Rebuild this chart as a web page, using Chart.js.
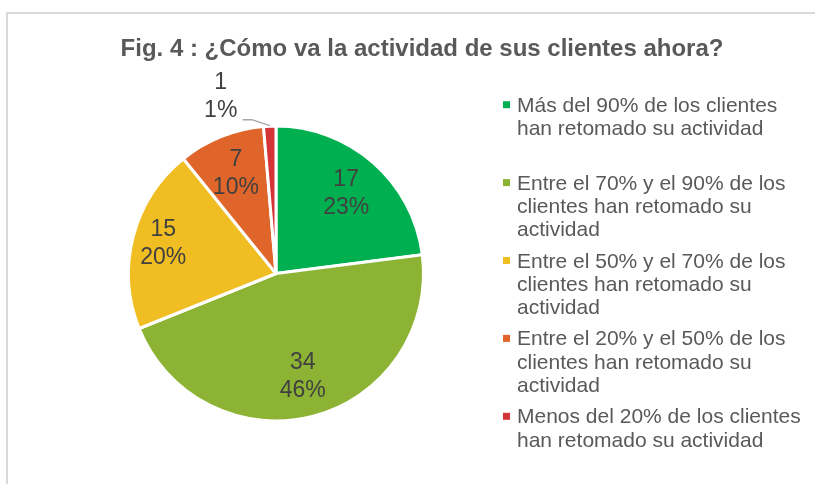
<!DOCTYPE html>
<html>
<head>
<meta charset="utf-8">
<script src="https://cdn.jsdelivr.net/npm/chart.js@4.4.0/dist/chart.umd.min.js"></script>
<style>
  body { margin: 0; background: #fff; }
</style>
</head>
<body>
<canvas id="chart" width="815" height="484"></canvas>
<script>
// data
var chartTitle = 'Fig. 4 : ¿Cómo va la actividad de sus clientes ahora?';
var categories = [
  ['Más del 90% de los clientes', 'han retomado su actividad'],
  ['Entre el 70% y el 90% de los', 'clientes han retomado su', 'actividad'],
  ['Entre el 50% y el 70% de los', 'clientes han retomado su', 'actividad'],
  ['Entre el 20% y el 50% de los', 'clientes han retomado su', 'actividad'],
  ['Menos del 20% de los clientes', 'han retomado su actividad']
];
var values = [17, 34, 15, 7, 1];
var colors = ['#00b050', '#8db334', '#f0be22', '#e0652b', '#d43435'];

var FONT = '"Liberation Sans", Arial, sans-serif';

// percentages rounded so they add up to 100, like Excel does
function percents(vals) {
  var total = vals.reduce(function (a, b) { return a + b; }, 0);
  var raw = vals.map(function (v) { return v * 100 / total; });
  var out = raw.map(Math.floor);
  var left = 100 - out.reduce(function (a, b) { return a + b; }, 0);
  var order = raw.map(function (r, i) { return i; })
    .sort(function (a, b) { return (raw[b] - out[b]) - (raw[a] - out[a]); });
  for (var k = 0; k < left; k++) out[order[k]]++;
  return out;
}
var pcts = percents(values);

var excelPie = {
  id: 'excelPie',
  beforeDraw: function (chart) {
    var c = chart.ctx;
    c.save();
    c.fillStyle = '#fff';
    c.fillRect(0, 0, chart.width, chart.height);
    c.strokeStyle = '#d9d9d9';
    c.lineWidth = 2;
    c.strokeRect(7, 13, 900, 600);
    c.restore();
  },
  afterDatasetsDraw: function (chart, args, opts) {
    var c = chart.ctx;
    var arcs = chart.getDatasetMeta(0).data;
    c.save();

    // slice labels
    c.fillStyle = '#404040';
    c.font = '23px ' + FONT;
    c.textAlign = 'center';
    c.textBaseline = 'middle';
    arcs.forEach(function (arc, i) {
      var p = arc.getProps(['x', 'y', 'startAngle', 'endAngle', 'outerRadius'], true);
      var mid = (p.startAngle + p.endAngle) / 2;
      var lines = [String(values[i]), pcts[i] + '%'];
      var cx, cy;
      if (pcts[i] < 3) {
        var ex = p.x + Math.cos(mid) * (p.outerRadius + 0.5);
        var ey = p.y + Math.sin(mid) * (p.outerRadius + 0.5);
        c.strokeStyle = '#a6a6a6';
        c.lineWidth = 1.5;
        c.beginPath();
        c.moveTo(ex, ey);
        c.lineTo(ex - 18, ey - 6);
        c.lineTo(ex - 27, ey - 6);
        c.stroke();
        cx = ex - 49;
        cy = ey - 29;
      } else {
        var f = opts.labelRadius[i];
        cx = p.x + Math.cos(mid) * p.outerRadius * f;
        cy = p.y + Math.sin(mid) * p.outerRadius * f;
      }
      c.fillText(lines[0], cx, cy - 14);
      c.fillText(lines[1], cx, cy + 14);
    });

    // title
    c.fillStyle = '#595959';
    c.font = 'bold 24px ' + FONT;
    c.textBaseline = 'alphabetic';
    c.fillText(chartTitle, 422, 56);

    // legend, one equal slot per entry
    c.font = '21px ' + FONT;
    c.textAlign = 'left';
    categories.forEach(function (lines, i) {
      var base = 111.7 + i * 77.9;
      c.fillStyle = colors[i];
      c.fillRect(503, base - 10.5, 7, 7);
      c.fillStyle = '#595959';
      lines.forEach(function (t, j) {
        c.fillText(t, 517, base + j * 23.4);
      });
    });
    c.restore();
  }
};

new Chart(document.getElementById('chart'), {
  type: 'pie',
  data: {
    labels: categories,
    datasets: [{
      data: values,
      backgroundColor: colors,
      borderColor: '#ffffff',
      borderWidth: 3,
      hoverOffset: 0
    }]
  },
  options: {
    responsive: false,
    animation: false,
    radius: 147.5,
    layout: { padding: { left: 100, right: 363, top: 101, bottom: 38 } },
    plugins: {
      legend: { display: false },
      tooltip: { enabled: false },
      title: { display: false },
      excelPie: { labelRadius: [0.72, 0.72, 0.79, 0.73, 1] }
    }
  },
  plugins: [excelPie]
});
</script>
</body>
</html>
